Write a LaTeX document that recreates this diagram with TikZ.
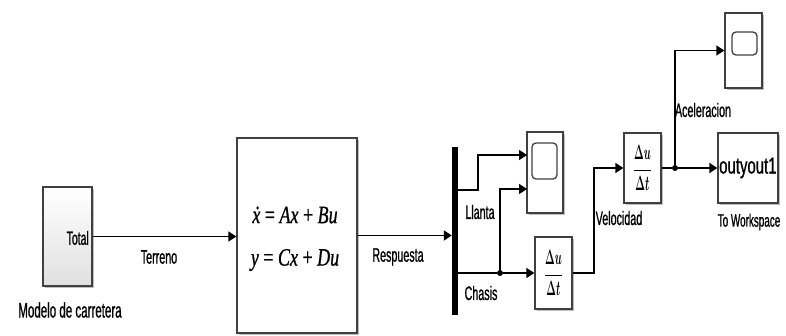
\documentclass[tikz,border=0pt]{standalone}
\usepackage{fontspec}
\usepackage{graphicx}
\setmainfont{Liberation Sans}[FakeStretch=0.55,FakeBold=0.8]
\newfontfamily\wsfont{Liberation Sans}[FakeStretch=0.65,FakeBold=0.8]
\newfontfamily\eqfont{Liberation Serif}[FakeStretch=0.72,FakeBold=0.8]
\usetikzlibrary{arrows.meta,shadows}
\tikzset{
  blk/.style={draw=black!75, line width=1.3pt, fill=white, inner sep=0pt,
    drop shadow={shadow xshift=1.5pt, shadow yshift=-1.5pt, opacity=0.25, fill=black}},
  sig/.style={draw=black, line width=1.6pt, -{Triangle[length=8pt,width=10pt]}},
  wire/.style={draw=black, line width=1.6pt},
  lbl/.style={font=\fontsize{19.5}{22}\selectfont, inner sep=0pt},
  scopein/.style={draw=black!75, line width=1.3pt, rounded corners=4pt, inner sep=0pt},
  jdot/.style={circle, fill=black, inner sep=0pt, minimum size=6pt},
  derivtext/.style={font=\fontsize{20}{22}\selectfont}
}
\newcommand{\derivfrac}{\scalebox{0.5}[1]{\boldmath$\displaystyle\frac{\Delta u}{\Delta t}$}}
\begin{document}
\begin{tikzpicture}[x=1pt,y=-1pt]
\useasboundingbox (0,0) rectangle (786,335);
% blocks
\node[blk, minimum width=49pt, minimum height=99pt, top color=white, bottom color=black!12] (model) at (67.5,236.5) {};
\node[anchor=east, font=\fontsize{19}{22}\selectfont, inner sep=0pt] (total) at (89,238) {Total};
\node[lbl] (modlbl) at (70,310) {\fontsize{21}{22}\selectfont Modelo de carretera};

\node[blk, minimum width=120pt, minimum height=195pt] (ss) at (297,235.5) {};
\node[inner sep=0pt, font=\eqfont\fontsize{25}{28}\selectfont] (eq1) at (295,215) {\textit{\.{x}} = \textit{Ax} + \textit{Bu}};
\node[inner sep=0pt, font=\eqfont\fontsize{25}{28}\selectfont] (eq2) at (295,260) {\textit{y} = \textit{Cx} + \textit{Du}};

\node[fill=black, minimum width=6pt, minimum height=168pt, inner sep=0pt] (bus) at (455,231) {};

\node[blk, minimum width=36pt, minimum height=81pt] (scope1) at (545,172.5) {};
\node[scopein, minimum width=25pt, minimum height=36pt] (scope1in) at (544.5,161) {};

\node[blk, minimum width=37pt, minimum height=72pt, derivtext] (der1) at (553.5,273) {\derivfrac};
\node[blk, minimum width=37pt, minimum height=70pt, derivtext] (der2) at (642.5,168) {\derivfrac};

\node[blk, minimum width=37pt, minimum height=75pt] (scope2) at (743.5,50.5) {};
\node[scopein, minimum width=25pt, minimum height=23pt] (scope2in) at (744.5,43.5) {};

\node[blk, minimum width=60pt, minimum height=70pt] (ws) at (748,168) {};
\node[anchor=west, inner sep=0pt, font=\wsfont\fontsize{23}{26}\selectfont] (wstext) at (719,168) {outyout1};

% coordinates
\coordinate (yL) at (0,190);
\coordinate (yC) at (0,273);
\coordinate (in1) at (527,155);
\coordinate (in2) at (527,189);
\coordinate (xL) at (478,0);
\coordinate (xV) at (594,0);
\node[jdot] (d1) at (500,273) {};
\node[jdot] (d2) at (675,168) {};

% connectors
\draw[sig] (model.east) -- (model.east -| ss.west);
\draw[sig] (ss.east) -- (ss.east -| bus.west);
\draw[sig] (bus.east |- yL) -| (xL |- in1) -- (in1);
\draw[wire] (bus.east |- yC) -- (d1);
\draw[sig] (d1) -- (der1.west);
\draw[sig] (d1) |- (in2);
\draw[sig] (der1.east) -| (xV |- der2.west) -- (der2.west);
\draw[wire] (der2.east) -- (d2);
\draw[sig] (d2) -- (ws.west);
\draw[sig] (d2) |- (scope2.west);

% labels
\node[lbl] (lterreno) at (159,257) {Terreno};
\node[lbl] (lresp) at (398,257) {Respuesta};
\node[lbl] (lllanta) at (480,212) {Llanta};
\node[lbl] (lchasis) at (481,293) {Chasis};
\node[lbl] (lvel) at (619,218) {Velocidad};
\node[lbl] (lacel) at (703,110) {Aceleracion};
\node[lbl] (lws) at (749,222) {\fontsize{18}{20}\selectfont To Workspace};
\end{tikzpicture}
\end{document}
